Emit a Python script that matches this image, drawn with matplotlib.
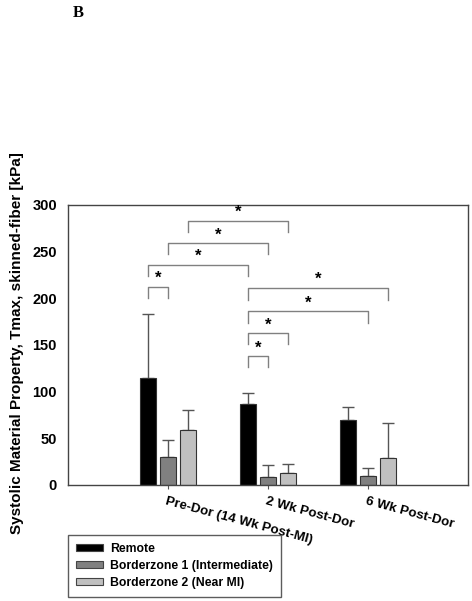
import numpy as np
import matplotlib
matplotlib.use("Agg")
import matplotlib.pyplot as plt
from matplotlib.patches import Patch

plt.rcParams['font.family'] = ['Liberation Sans', 'DejaVu Sans']

groups = ["Pre-Dor (14 Wk Post-MI)", "2 Wk Post-Dor", "6 Wk Post-Dor"]
series = ["Remote", "Borderzone 1 (Intermediate)", "Borderzone 2 (Near MI)"]
remote = [115, 87, 70]
remote_err = [68, 12, 14]
bz1 = [30, 8.5, 9.5]
bz1_err = [18, 12.5, 8.5]
bz2 = [58.5, 13, 29]
bz2_err = [21.5, 10, 37]
colors = ["#000000", "#808080", "#c0c0c0"]

# significance brackets: (group, series) -> (group, series), bracket height, leg bottom
brackets = [
    ((0, 2), (1, 2), 283, 271),
    ((0, 1), (1, 1), 259, 247),
    ((0, 0), (1, 0), 236, 224),
    ((0, 0), (0, 1), 212.5, 200),
    ((1, 0), (2, 2), 211, 198),
    ((1, 0), (2, 1), 186, 174),
    ((1, 0), (1, 2), 162.5, 151),
    ((1, 0), (1, 1), 138, 126),
]

fig = plt.figure(figsize=(4.72, 6.01), dpi=100)
ax = fig.add_axes([68 / 472, 1 - 485 / 601, 400 / 472, 280 / 601])

x = np.arange(len(groups))
offsets = [-0.2, 0.0, 0.2]
width = 0.16
for vals, errs, col, off in zip([remote, bz1, bz2], [remote_err, bz1_err, bz2_err], colors, offsets):
    ax.bar(x + off, vals, width, color=col, edgecolor="#333333", linewidth=0.8, zorder=2)
    ax.errorbar(x + off, vals, yerr=[np.zeros(len(errs)), errs], fmt="none",
                ecolor="#555555", elinewidth=1, capsize=4, capthick=1, zorder=1)

for (g1, s1), (g2, s2), h, low in brackets:
    x1 = g1 + offsets[s1]
    x2 = g2 + offsets[s2]
    ax.plot([x1, x1, x2, x2], [low, h, h, low], color="#808080", lw=1, zorder=3)
    ax.text((x1 + x2) / 2, h + 1, "*", ha="center", va="bottom", fontsize=12, fontweight="bold")

ax.set_xlim(-1.0, 3.0)
ax.set_ylim(0, 300)
ax.set_yticks([0, 50, 100, 150, 200, 250, 300])
ax.tick_params(axis="y", length=0, labelsize=10.5, pad=8)
for lab in ax.get_yticklabels():
    lab.set_fontweight("bold")
ax.set_xticks(x)
ax.set_xticklabels([])
ax.tick_params(axis="x", length=3, color="#555555")
for i, g in enumerate(groups):
    ax.text(i - 0.01, -11, g, rotation=-15, rotation_mode="anchor", ha="left", va="top",
            fontsize=9.6, fontweight="bold")
for s in ax.spines.values():
    s.set_color("#444444")
    s.set_linewidth(1)

fig.text(17.5 / 472, 1 - 343.5 / 601, "Systolic Material Property, Tmax, skinned-fiber [kPa]",
         rotation=90, ha="center", va="center", fontsize=11, fontweight="bold")

fig.text(73 / 472, 1 - 13 / 601, "B", family=["Liberation Serif", "DejaVu Serif"],
         fontsize=12, fontweight="bold", ha="left", va="center")

handles = [Patch(facecolor=c, edgecolor="#444444", linewidth=0.8) for c in colors]
leg = fig.legend(handles, series, loc="upper left", bbox_to_anchor=(68 / 472, 1 - 535 / 601),
                 borderaxespad=0, frameon=True, fancybox=False, edgecolor="#333333",
                 handlelength=2.2, handleheight=0.55, prop={"weight": "bold", "size": 8.8},
                 borderpad=0.65, labelspacing=0.4, handletextpad=0.6)
leg.get_frame().set_linewidth(1)

fig.savefig("out.png", dpi=100)
